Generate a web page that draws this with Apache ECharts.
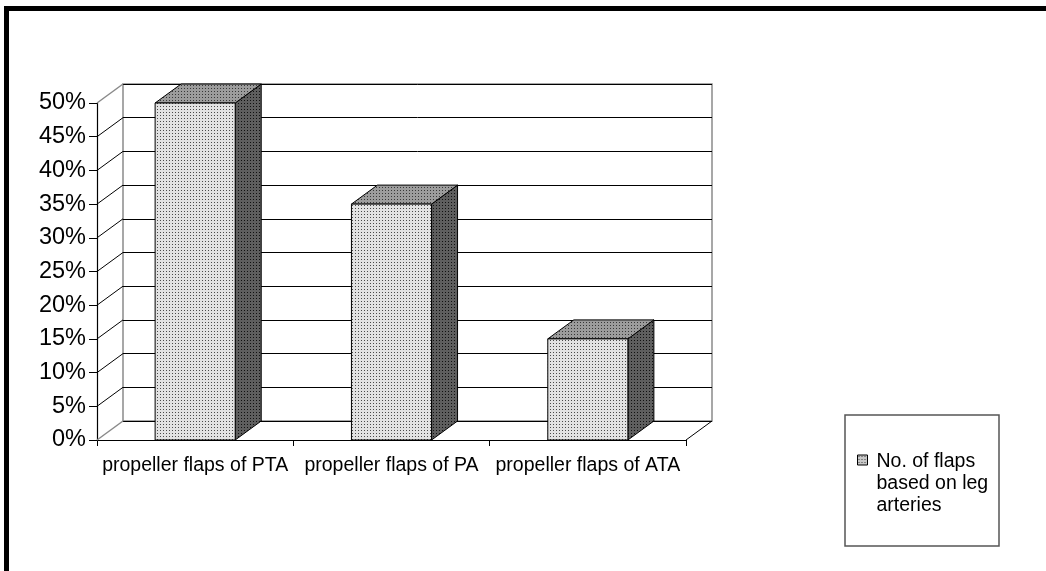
<!DOCTYPE html>
<html>
<head>
<meta charset="utf-8">
<script src="https://cdn.jsdelivr.net/npm/echarts@6/dist/echarts.min.js"></script>
<style>
html,body{margin:0;padding:0;background:#fff;}
#chart{width:1046px;height:571px;}
</style>
</head>
<body>
<div id="chart"></div>
<script>
// ---- data ----
const categories = ['propeller flaps of PTA', 'propeller flaps of PA', 'propeller flaps of ATA'];
const values = [0.50, 0.35, 0.15];
const yTicks = [0, 0.05, 0.10, 0.15, 0.20, 0.25, 0.30, 0.35, 0.40, 0.45, 0.50];
const legendLines = ['No. of flaps', 'based on leg', 'arteries'];
const seriesName = legendLines.join(' ');

// ---- styles ----
const DX = 26, DY = 19;
const FONT = "'Liberation Sans', Arial, sans-serif";
function makePattern(bg, dot) {
  const c = document.createElement('canvas');
  c.width = 3; c.height = 3;
  const g = c.getContext('2d');
  g.fillStyle = bg; g.fillRect(0, 0, 3, 3);
  g.fillStyle = dot; g.fillRect(1, 1, 1, 1);
  return { image: c, repeat: 'repeat' };
}
const frontPat = makePattern('#e2e2e2', '#4a4a4a');
const topPat = makePattern('#9c9c9c', '#383838');
const sidePat = makePattern('#5e5e5e', '#101010');
const iconPat = makePattern('#c8c8c8', '#404040');

const chart = echarts.init(document.getElementById('chart'), null, { renderer: 'canvas' });

const option = {
  animation: false,
  backgroundColor: '#fff',
  grid: [
    { left: 97, top: 103, width: 589, height: 337, containLabel: false },
    { left: 97 + DX, top: 103 - DY, width: 589, height: 337, show: true,
      borderColor: '#8a8a8a', borderWidth: 1.5, backgroundColor: 'transparent', z: 0 }
  ],
  xAxis: [
    { type: 'category', gridIndex: 0, data: categories, boundaryGap: true,
      axisLine: { show: true, lineStyle: { color: '#000', width: 1.2 } },
      axisTick: { show: true, length: 6, alignWithLabel: false, lineStyle: { color: '#000' } },
      axisLabel: { interval: 0, margin: 16, color: '#000', fontSize: 19.5, fontFamily: FONT },
      splitLine: { show: false } },
    { type: 'category', gridIndex: 1, data: categories, show: false }
  ],
  yAxis: [
    { type: 'value', gridIndex: 0, min: 0, max: 0.5, interval: 0.05,
      axisLine: { show: true, lineStyle: { color: '#000', width: 1.2 } },
      axisTick: { show: true, length: 8, lineStyle: { color: '#000' } },
      axisLabel: { margin: 11, color: '#000', fontSize: 23.5, fontFamily: FONT,
        formatter: v => Math.round(v * 100) + '%' },
      splitLine: { show: false } },
    { type: 'value', gridIndex: 1, min: 0, max: 0.5, interval: 0.05,
      axisLine: { show: false }, axisTick: { show: false }, axisLabel: { show: false },
      splitLine: { show: true, lineStyle: { color: '#000', width: 1 } } }
  ],
  legend: {
    left: 857, top: 451, orient: 'vertical', padding: 0,
    itemWidth: 10, itemHeight: 58,
    icon: 'path://M0,0h10v10h-10z M10,58',
    itemStyle: { color: iconPat, borderColor: '#000', borderWidth: 1 },
    data: [seriesName],
    formatter: () => legendLines.join('\n'),
    textStyle: { color: '#000', fontSize: 19.5, lineHeight: 22, fontFamily: FONT, padding: [0, 0, 0, 4] }
  },
  graphic: [
    { type: 'rect', shape: { x: 845, y: 415, width: 154, height: 131 },
      style: { fill: 'transparent', stroke: '#555', lineWidth: 1.5 }, z: 1 },
    { type: 'rect', shape: { x: 4, y: 6, width: 1042, height: 5 }, style: { fill: '#000' } },
    { type: 'rect', shape: { x: 4, y: 6, width: 5, height: 565 }, style: { fill: '#000' } }
  ],
  series: [
    { // left wall diagonals
      type: 'custom', xAxisIndex: 0, yAxisIndex: 0, silent: true, z: 1,
      data: yTicks.map(v => [0, v]),
      renderItem: function (params, api) {
        const x0 = params.coordSys.x;
        const y = api.coord([0, api.value(1)])[1];
        const v = api.value(1);
        const edge = (v === yTicks[0] || v === yTicks[yTicks.length - 1]);
        return { type: 'line', shape: { x1: x0, y1: y, x2: x0 + DX, y2: y - DY },
          style: { stroke: edge ? '#8a8a8a' : '#000', lineWidth: edge ? 1.5 : 1 } };
      }
    },
    { // floor right diagonal
      type: 'custom', xAxisIndex: 0, yAxisIndex: 0, silent: true, z: 1,
      data: [[0, 0]],
      renderItem: function (params, api) {
        const cs = params.coordSys;
        const yb = api.coord([0, 0])[1];
        const xr = cs.x + cs.width;
        return { type: 'line', shape: { x1: xr, y1: yb, x2: xr + DX, y2: yb - DY },
          style: { stroke: '#000', lineWidth: 1 } };
      }
    },
    { // 3D bars
      name: seriesName, type: 'custom', xAxisIndex: 0, yAxisIndex: 0, z: 3,
      itemStyle: { color: frontPat },
      data: values.map((v, i) => [i, v]),
      renderItem: function (params, api) {
        const i = api.value(0), v = api.value(1);
        const top = api.coord([i, v]);
        const base = api.coord([i, 0]);
        const bw = api.size([1, 0])[0] * 0.408;
        const x = top[0] - bw / 2, y = top[1], yb = base[1];
        const stroke = { stroke: '#000', lineWidth: 1 };
        return {
          type: 'group',
          children: [
            { type: 'polygon', shape: { points: [[x + bw, y], [x + bw + DX, y - DY], [x + bw + DX, yb - DY], [x + bw, yb]] },
              style: Object.assign({ fill: sidePat }, stroke) },
            { type: 'polygon', shape: { points: [[x, y], [x + DX, y - DY], [x + bw + DX, y - DY], [x + bw, y]] },
              style: Object.assign({ fill: topPat }, stroke) },
            { type: 'rect', shape: { x: x, y: y, width: bw, height: yb - y },
              style: Object.assign({ fill: frontPat }, stroke) }
          ]
        };
      }
    }
  ]
};
chart.setOption(option);
</script>
</body>
</html>
